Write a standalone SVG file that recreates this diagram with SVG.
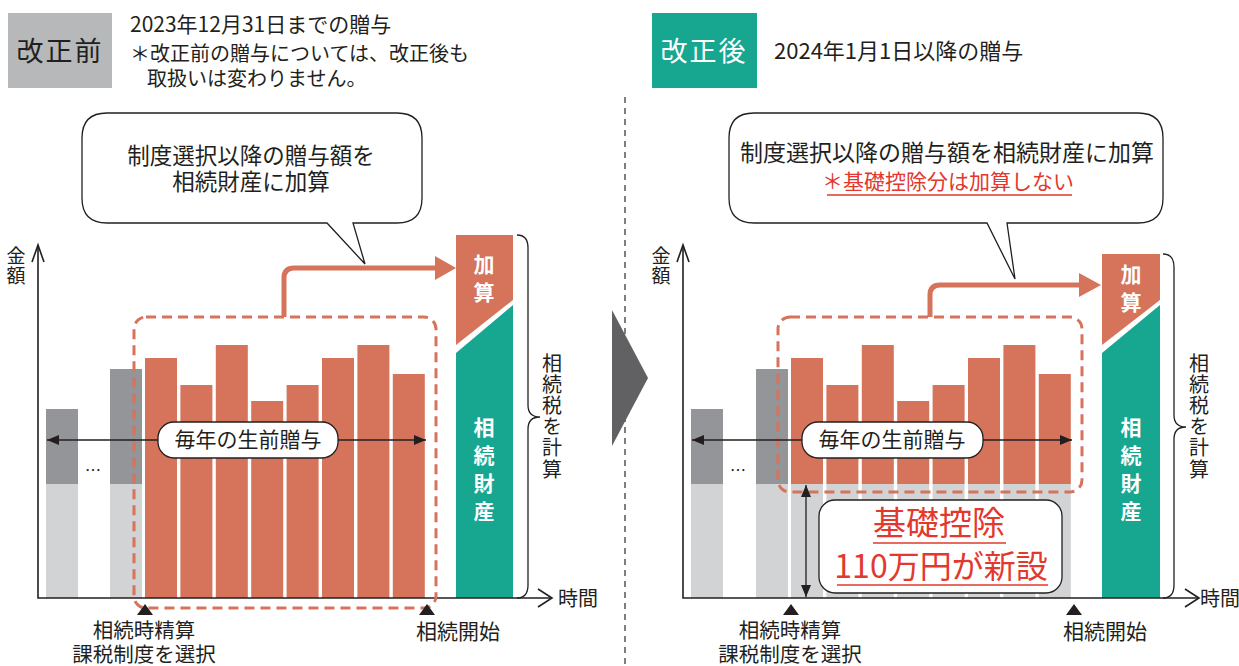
<svg xmlns="http://www.w3.org/2000/svg" width="1239" height="666" viewBox="0 0 1239 666">
<defs>
<style>
text{font-family:"Noto Sans CJK JP","Noto Sans",sans-serif;fill:#231f20}
.c{text-anchor:middle}
.v{writing-mode:vertical-rl;font-size:20px;letter-spacing:1.2px}
.va{writing-mode:vertical-rl;font-size:19px;letter-spacing:1px}
.w{fill:#fff;font-weight:bold;font-size:21px;text-anchor:middle}
.r{fill:#e2382d}
.dk{fill:#939598}
.lt{fill:#d1d3d4}
.or{fill:#d5735b}
.tl{fill:#17a690}
.ax{stroke:#231f20;stroke-width:1.6;fill:none}
.dash{fill:none;stroke:#d5735b;stroke-width:3;stroke-dasharray:10 6}
.conn{fill:none;stroke:#d5735b;stroke-width:5}
.bub{fill:#fff;stroke:#231f20;stroke-width:1.3}
.lab{fill:#fff;stroke:#231f20;stroke-width:1.3}
.thin{stroke:#231f20;stroke-width:1.3;fill:none}
</style>
<marker id="ah" viewBox="0 0 12 10" refX="12" refY="5" markerWidth="12" markerHeight="10" orient="auto-start-reverse" markerUnits="userSpaceOnUse"><path d="M0,0 L12,5 L0,10 Z" fill="#231f20"/></marker>
</defs>
<rect width="1239" height="666" fill="#fff"/>

<!-- headers -->
<g id="header-before">
<rect x="8" y="13" width="104" height="75" fill="#b7b8ba"/>
<text x="60" y="61" class="c" font-size="27" letter-spacing="2">改正前</text>
<text x="130" y="32" font-size="21">2023年12月31日までの贈与</text>
<text font-size="20"><tspan x="130" y="61">＊改正前の贈与については、改正後も</tspan><tspan x="147" y="86">取扱いは変わりません。</tspan></text>
</g>
<g id="header-after">
<rect x="652" y="13" width="105" height="75" fill="#17a690"/>
<text x="704" y="61" class="c" font-size="27" letter-spacing="2" style="fill:#fff">改正後</text>
<text x="774" y="59" font-size="22">2024年1月1日以降の贈与</text>
</g>

<g id="divider">
<line x1="625" y1="97" x2="625" y2="666" stroke="#555" stroke-width="1.5" stroke-dasharray="6 5"/>
<polygon points="612,310 648,378 612,446" fill="#616163"/>
</g>

<!-- LEFT PANEL -->
<g id="left-bars">
<rect class="dk" x="46" y="409" width="32" height="75"/>
<rect class="lt" x="46" y="484" width="32" height="114"/>
<rect class="dk" x="110" y="369" width="32" height="115"/>
<rect class="lt" x="110" y="484" width="32" height="114"/>
<text x="93" y="476" class="c" font-size="16">…</text>
<rect class="or" x="145" y="358" width="32" height="240"/>
<rect class="or" x="180.4" y="385" width="32" height="213"/>
<rect class="or" x="215.8" y="345" width="32" height="253"/>
<rect class="or" x="251.2" y="401" width="32" height="197"/>
<rect class="or" x="286.6" y="385" width="32" height="213"/>
<rect class="or" x="322" y="358" width="32" height="240"/>
<rect class="or" x="357.4" y="345" width="32" height="253"/>
<rect class="or" x="392.8" y="374" width="32" height="224"/>
</g>
<g id="left-total">
<polygon class="or" points="456,235 513,235 513,300 456,345"/>
<polygon class="tl" points="456,353 513,305 513,598 456,598"/>
<text class="w" x="484" y="272">加</text>
<text class="w" x="484" y="300">算</text>
<text class="w" x="484" y="435">相</text>
<text class="w" x="484" y="463">続</text>
<text class="w" x="484" y="491">財</text>
<text class="w" x="484" y="519">産</text>
</g>
<g id="left-axes">
<path class="ax" d="M38,245 V598 H552"/>
<path class="ax" d="M32,262 L38,245 L44,262"/>
<path class="ax" d="M538,589 L552,598 L538,607"/>
<text x="16" y="246" class="va">金額</text>
<text x="558" y="606" font-size="20">時間</text>
</g>
<g id="left-brace">
<path class="thin" d="M517,235 Q528,235 528,248 V405 Q528,417 540,417 Q528,417 528,429 V585 Q528,598 517,598"/>
<text x="552" y="353" class="v">相続税を計算</text>
</g>
<g id="left-connectors">
<rect class="dash" x="134" y="317" width="302" height="291" rx="12"/>
<path class="conn" d="M284,317 V278 Q284,268 294,268 H438"/>
<polygon fill="#d5735b" points="435,256 456,268 435,280"/>
<line x1="47" y1="440" x2="426" y2="440" stroke="#231f20" stroke-width="1.3" marker-start="url(#ah)" marker-end="url(#ah)"/>
</g>
<g id="left-gift-label">
<rect class="lab" x="158" y="422" width="180" height="36" rx="16"/>
<text x="248" y="447" class="c" font-size="21">毎年の生前贈与</text>
</g>
<g id="left-callout">
<path class="bub" d="M107,113 H397 Q422,113 422,138 V198 Q422,223 397,223 H353 L365,264 L327,223 H107 Q82,223 82,198 V138 Q82,113 107,113 Z"/>
<text class="c" font-size="22.5"><tspan x="251" y="164">制度選択以降の贈与額を</tspan><tspan x="251" y="190">相続財産に加算</tspan></text>
</g>
<g id="left-marks">
<polygon points="145,604 137,615 153,615" fill="#231f20"/>
<polygon points="427,604 419,615 435,615" fill="#231f20"/>
<text class="c" font-size="20.5"><tspan x="144" y="638">相続時精算</tspan><tspan x="144" y="662">課税制度を選択</tspan></text>
<text x="458" y="639" class="c" font-size="21">相続開始</text>
</g>

<!-- RIGHT PANEL -->
<g id="right-bars">
<rect class="dk" x="691" y="409" width="32" height="75"/>
<rect class="lt" x="691" y="484" width="32" height="114"/>
<rect class="dk" x="756" y="369" width="32" height="115"/>
<rect class="lt" x="756" y="484" width="32" height="114"/>
<text x="738" y="476" class="c" font-size="16">…</text>
<rect class="or" x="791" y="358" width="32" height="126"/>
<rect class="or" x="826.4" y="385" width="32" height="99"/>
<rect class="or" x="861.8" y="345" width="32" height="139"/>
<rect class="or" x="897.2" y="401" width="32" height="83"/>
<rect class="or" x="932.6" y="385" width="32" height="99"/>
<rect class="or" x="968" y="358" width="32" height="126"/>
<rect class="or" x="1003.4" y="345" width="32" height="139"/>
<rect class="or" x="1038.8" y="374" width="32" height="110"/>
<rect class="lt" x="791" y="484" width="32" height="114"/>
<rect class="lt" x="826.4" y="484" width="32" height="114"/>
<rect class="lt" x="861.8" y="484" width="32" height="114"/>
<rect class="lt" x="897.2" y="484" width="32" height="114"/>
<rect class="lt" x="932.6" y="484" width="32" height="114"/>
<rect class="lt" x="968" y="484" width="32" height="114"/>
<rect class="lt" x="1003.4" y="484" width="32" height="114"/>
<rect class="lt" x="1038.8" y="484" width="32" height="114"/>
</g>
<g id="right-total">
<polygon class="or" points="1102,254 1160,254 1160,300 1102,345"/>
<polygon class="tl" points="1102,353 1160,305 1160,598 1102,598"/>
<text class="w" x="1131" y="282">加</text>
<text class="w" x="1131" y="310">算</text>
<text class="w" x="1131" y="435">相</text>
<text class="w" x="1131" y="463">続</text>
<text class="w" x="1131" y="491">財</text>
<text class="w" x="1131" y="519">産</text>
</g>
<g id="right-axes">
<path class="ax" d="M683,245 V598 H1199"/>
<path class="ax" d="M677,262 L683,245 L689,262"/>
<path class="ax" d="M1185,589 L1199,598 L1185,607"/>
<text x="661" y="246" class="va">金額</text>
<text x="1200" y="606" font-size="20">時間</text>
</g>
<g id="right-brace">
<path class="thin" d="M1163,254 Q1174,254 1174,267 V415 Q1174,427 1186,427 Q1174,427 1174,439 V585 Q1174,598 1163,598"/>
<text x="1199" y="353" class="v">相続税を計算</text>
</g>
<g id="right-connectors">
<rect class="dash" x="778" y="317" width="304" height="175" rx="12"/>
<path class="conn" d="M930,317 V295 Q930,285 940,285 H1082"/>
<polygon fill="#d5735b" points="1079,273 1101,285 1079,297"/>
<line x1="692" y1="440" x2="1072" y2="440" stroke="#231f20" stroke-width="1.3" marker-start="url(#ah)" marker-end="url(#ah)"/>
<line x1="806" y1="485" x2="806" y2="597" stroke="#231f20" stroke-width="1.3" marker-start="url(#ah)" marker-end="url(#ah)"/>
</g>
<g id="right-gift-label">
<rect class="lab" x="802" y="422" width="181" height="36" rx="16"/>
<text x="892" y="447" class="c" font-size="21">毎年の生前贈与</text>
</g>
<g id="right-deduction">
<rect class="lab" x="819" y="500" width="243" height="93" rx="16"/>
<text class="c r"><tspan x="939" y="535" font-size="33">基礎控除</tspan><tspan x="941" y="578" font-size="32">110万円が新設</tspan></text>
<line x1="873" y1="543" x2="1006" y2="543" stroke="#e2382d" stroke-width="1.5"/>
<line x1="837" y1="585" x2="1048" y2="585" stroke="#e2382d" stroke-width="1.5"/>
</g>
<g id="right-callout">
<path class="bub" d="M754,113 H1138 Q1163,113 1163,138 V198 Q1163,223 1138,223 H1007 L1015,279 L987,223 H754 Q729,223 729,198 V138 Q729,113 754,113 Z"/>
<text class="c"><tspan x="947" y="161" font-size="23">制度選択以降の贈与額を相続財産に加算</tspan><tspan x="948" y="189" font-size="21" fill="#e2382d" style="fill:#e2382d">＊基礎控除分は加算しない</tspan></text>
<line x1="827" y1="195" x2="1072" y2="195" stroke="#e2382d" stroke-width="1.3"/>
</g>
<g id="right-marks">
<polygon points="791,604 783,615 799,615" fill="#231f20"/>
<polygon points="1074,604 1066,615 1082,615" fill="#231f20"/>
<text class="c" font-size="20.5"><tspan x="790" y="638">相続時精算</tspan><tspan x="790" y="662">課税制度を選択</tspan></text>
<text x="1105" y="639" class="c" font-size="21">相続開始</text>
</g>
</svg>
